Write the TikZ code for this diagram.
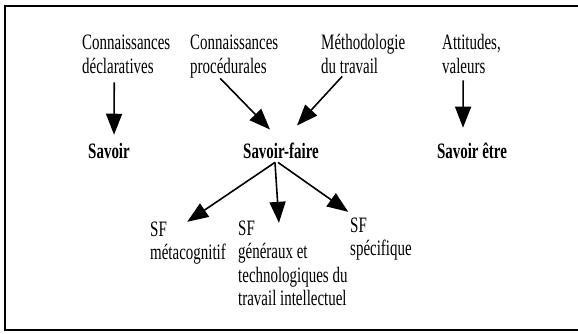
\documentclass[tikz,border=0pt]{standalone}
\usepackage{fontspec}
\setmainfont{Liberation Serif}[FakeStretch=0.68]
\usetikzlibrary{arrows.meta}
\begin{document}
\begin{tikzpicture}[x=1pt,y=-1pt,
    every node/.style={inner sep=0pt,font=\fontsize{22}{23.5}\selectfont},
    txt/.style={align=left,anchor=base west},
    head/.style={anchor=base,font=\fontsize{22}{23.5}\selectfont\bfseries},
    arr/.style={line width=1.6pt,-{Triangle[length=21pt,width=16pt]}}]
  \useasboundingbox (0,0) rectangle (578,334);
  \draw[line width=2pt] (578,6) -- (5,6) -- (5,330) -- (578,330);
  % top row (base = last line)
  \node[txt] (decl) at (82,73.5) {Connaissances\\d\'eclaratives};
  \node[txt] (proc) at (190,73.5) {Connaissances\\proc\'edurales};
  \node[txt] (meth) at (321,73.5) {M\'ethodologie\\du travail};
  \node[txt] (att) at (442,73.5) {Attitudes,\\valeurs};
  % middle row
  \node[head] (savoir) at (109,158) {Savoir};
  \node[head] (sfaire) at (281,158) {Savoir-faire};
  \node[head] (sete) at (472,158) {Savoir \^etre};
  % bottom row
  \node[txt] (meta) at (150,259.5) {SF\\m\'etacognitif};
  \node[txt] (gen) at (238,305.5) {SF\\g\'en\'eraux et\\technologiques du\\travail intellectuel};
  \node[txt] (spec) at (350,255.5) {SF\\sp\'ecifique};
  \draw[arr] ([xshift=-12pt,yshift=-8.5pt]decl.south) -- ([xshift=5pt,yshift=7.8pt]savoir.north);
  \draw[arr] ([xshift=-14pt]proc.south) -- ([xshift=-11pt,yshift=12.8pt]sfaire.north);
  \draw[arr] ([xshift=-21pt,yshift=-2.5pt]meth.south) -- ([xshift=16pt,yshift=16.8pt]sfaire.north);
  \draw[arr] ([xshift=-8.3pt,yshift=-6.5pt]att.south) -- ([xshift=-9pt,yshift=14.6pt]sete.north);
  \draw[arr] ([xshift=-6pt,yshift=-4pt]sfaire.south) -- ([xshift=-0.8pt,yshift=-0.6pt]meta.north);
  \draw[arr] ([xshift=-6pt,yshift=-4pt]sfaire.south) -- ([xshift=-13.9pt,yshift=-2.6pt]gen.north);
  \draw[arr] ([xshift=-3pt,yshift=-4pt]sfaire.south) -- ([xshift=-32.7pt,yshift=5.4pt]spec.north);
\end{tikzpicture}
\end{document}
